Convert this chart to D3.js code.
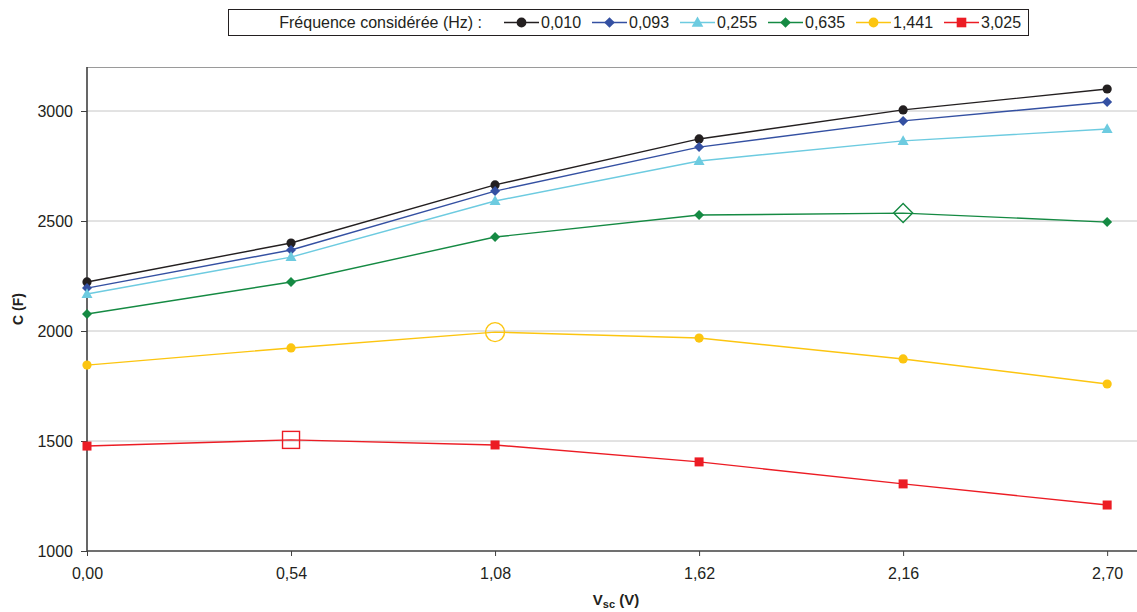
<!DOCTYPE html>
<html><head><meta charset="utf-8">
<script src="https://cdn.jsdelivr.net/npm/d3@7"></script>
<style>body{margin:0;background:#fff}svg{display:block;font-family:"Liberation Sans",Arial,sans-serif}</style>
</head><body><svg id="c" width="1137" height="612"></svg>
<script>
const vsc = [0.00, 0.54, 1.08, 1.62, 2.16, 2.70];
const xTickLabels = ["0,00","0,54","1,08","1,62","2,16","2,70"];
const yTicks = [1000,1500,2000,2500,3000];
const seriesNames = ["0,010","0,093","0,255","0,635","1,441","3,025"];
const s0010 = [2223, 2400, 2664, 2873, 3005, 3100];
const s0093 = [2195, 2368, 2636, 2836, 2955, 3041];
const s0255 = [2168, 2336, 2591, 2773, 2864, 2918];
const s0635 = [2077, 2223, 2427, 2527, 2536, 2495];
const s1441 = [1845, 1923, 1995, 1968, 1873, 1759];
const s3025 = [1477, 1505, 1482, 1405, 1305, 1209];
const highlighted = [-1, -1, -1, 4, 2, 1]; // index of open (max) marker per series
const colors = ["#231f20","#3450a2","#6dcbe0","#158a43","#fcc510","#ec1c24"];
const shapes = ["circle","diamond","triangle","diamond","circle","square"];
const allSeries = [s0010,s0093,s0255,s0635,s1441,s3025];

const svg = d3.select("#c");
const L = 87, R = 1137, T = 67, B = 551;
const x = d3.scaleLinear().domain([0, 2.779]).range([L, R]);
const y = d3.scaleLinear().domain([1000, 3200]).range([B, T]);

// grid
svg.append("g").selectAll("line").data(yTicks.filter(d=>d>1000)).join("line")
  .attr("x1",L).attr("x2",R).attr("y1",d=>y(d)).attr("y2",d=>y(d))
  .attr("stroke","#c6c6c6").attr("stroke-width",1);
// top border
svg.append("line").attr("x1",L).attr("x2",R).attr("y1",T+0.5).attr("y2",T+0.5).attr("stroke","#9a9a9a").attr("stroke-width",1);

// axes
const yAxis = d3.axisLeft(y).tickValues(yTicks).tickSize(6).tickPadding(8).tickFormat(d3.format("d"));
const gy = svg.append("g").attr("transform",`translate(${L},0)`).call(yAxis);
const xAxis = d3.axisBottom(x).tickValues(vsc).tickSize(5).tickPadding(12).tickFormat((d,i)=>xTickLabels[i]);
const gx = svg.append("g").attr("transform",`translate(0,${B})`).call(xAxis);
[gx,gy].forEach(g=>{
  g.select(".domain").attr("stroke","#404040").attr("stroke-width",1.6);
  g.selectAll(".tick line").attr("stroke","#404040");
  g.selectAll("text").attr("font-size",16).attr("fill","#231f20").attr("font-family","Liberation Sans, Arial, sans-serif");
});
gx.select(".domain").attr("d",`M${L},0H${R}`);
gy.select(".domain").attr("d",`M0,${B}V${T}`);

// titles
svg.append("text").attr("transform","translate(23,309) rotate(-90)").attr("text-anchor","middle")
  .attr("font-size",14).attr("font-weight","bold").attr("fill","#231f20").text("C (F)");
const xt = svg.append("text").attr("x",616).attr("y",605).attr("text-anchor","middle")
  .attr("font-size",15).attr("font-weight","bold").attr("fill","#231f20");
xt.append("tspan").text("V");
xt.append("tspan").attr("font-size",11).attr("dy",3).text("sc");
xt.append("tspan").attr("dy",-3).text(" (V)");

function marker(g, shape, cx, cy, size, color, open){
  const fill = open ? "none" : color;
  const stroke = color;
  const sw = open ? 1.4 : 0;
  if(shape==="circle"){
    g.append("circle").attr("cx",cx).attr("cy",cy).attr("r",size).attr("fill",fill).attr("stroke",stroke).attr("stroke-width",sw);
  } else if(shape==="diamond"){
    g.append("path").attr("d",`M${cx},${cy-size}L${cx+size},${cy}L${cx},${cy+size}L${cx-size},${cy}Z`).attr("fill",fill).attr("stroke",stroke).attr("stroke-width",sw);
  } else if(shape==="triangle"){
    g.append("path").attr("d",`M${cx},${cy-size*1.15}L${cx+size*1.1},${cy+size*0.8}L${cx-size*1.1},${cy+size*0.8}Z`).attr("fill",fill).attr("stroke",stroke).attr("stroke-width",sw);
  } else {
    g.append("rect").attr("x",cx-size).attr("y",cy-size).attr("width",2*size).attr("height",2*size).attr("fill",fill).attr("stroke",stroke).attr("stroke-width",sw);
  }
}
const baseSize = {circle:4.6, diamond:5, triangle:5, square:4.5};
const openSize = {circle:9.5, diamond:9.5, triangle:9, square:8.5};

const line = d3.line().x((d,i)=>x(vsc[i])).y(d=>y(d));
allSeries.forEach((s,k)=>{
  const g = svg.append("g");
  g.append("path").attr("d",line(s)).attr("fill","none").attr("stroke",colors[k]).attr("stroke-width",1.4);
  s.forEach((v,i)=>{
    const open = highlighted[k]===i;
    marker(g, shapes[k], x(vsc[i]), y(v), open ? openSize[shapes[k]] : baseSize[shapes[k]], colors[k], open);
  });
});

// legend
const lg = svg.append("g");
lg.append("rect").attr("x",228.5).attr("y",9.5).attr("width",800).attr("height",26).attr("fill","#fff").attr("stroke","#231f20").attr("stroke-width",1);
lg.append("text").attr("x",482).attr("y",28).attr("text-anchor","end").attr("font-size",16).attr("fill","#231f20").text("Fréquence considérée (Hz) :");
seriesNames.forEach((n,k)=>{
  const x0 = 504 + k*88, mx = x0+17.5, x1 = x0+35;
  lg.append("line").attr("x1",x0).attr("x2",x1).attr("y1",22.5).attr("y2",22.5).attr("stroke",colors[k]).attr("stroke-width",1.6);
  marker(lg, shapes[k], mx, 22.5, baseSize[shapes[k]]+0.3, colors[k], false);
  lg.append("text").attr("x",x1+2).attr("y",28).attr("font-size",16).attr("fill","#231f20").text(n);
});
</script></body></html>
